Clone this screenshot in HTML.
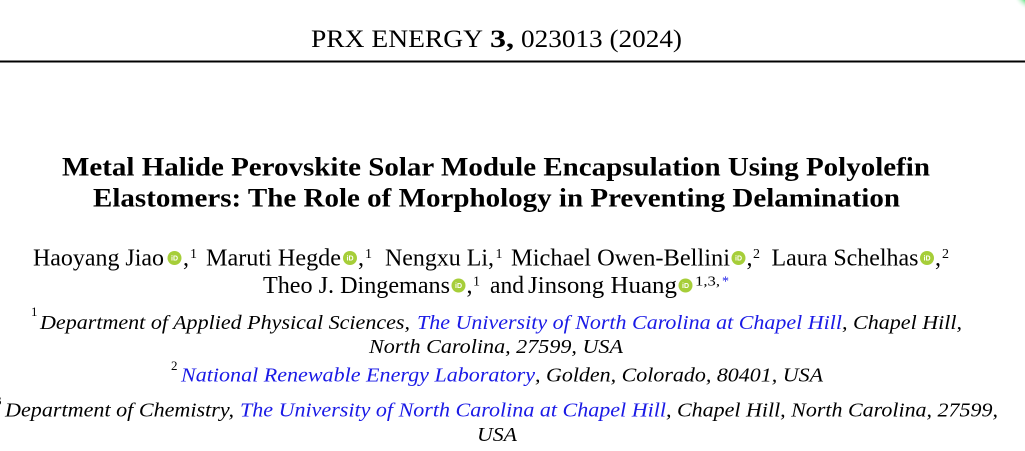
<!DOCTYPE html>
<html>
<head>
<meta charset="utf-8">
<style>
  html,body{margin:0;padding:0;background:#fff;}
  svg{display:block;}
  text{font-family:"Liberation Serif","Times New Roman",serif;fill:#000;}
  .it{font-style:italic;}
  .b{font-weight:bold;}
  .bl{fill:#1a1ae6;}
  .oid{fill:#a6ce39;}
  .oidt{font-family:"Liberation Sans",sans-serif;font-size:7px;font-weight:bold;fill:#fff;}
</style>
</head>
<body>
<svg width="1025" height="451" viewBox="0 0 1025 451" xmlns="http://www.w3.org/2000/svg">
  <defs>
    <radialGradient id="gb" cx="0.5" cy="0.5" r="0.5">
      <stop offset="0" stop-color="#2fd35a"/>
      <stop offset="0.6" stop-color="#5fe07f"/>
      <stop offset="1" stop-color="#ffffff" stop-opacity="0"/>
    </radialGradient>
    <g id="orcid">
      <circle cx="0" cy="0" r="7" class="oid"/>
      <text x="0" y="2.5" text-anchor="middle" class="oidt">iD</text>
    </g>
  </defs>
  <rect width="1025" height="451" fill="#fff"/>
  <circle cx="1034" cy="-10" r="22" fill="url(#gb)"/>

  <!-- Header -->
  <text x="311" y="47" font-size="25" textLength="172" lengthAdjust="spacingAndGlyphs">PRX ENERGY</text>
  <text x="490" y="47" font-size="25" class="b" textLength="24" lengthAdjust="spacingAndGlyphs">3,</text>
  <text x="521" y="47" font-size="25" textLength="161" lengthAdjust="spacingAndGlyphs">023013 (2024)</text>
  <rect x="0" y="60.5" width="1025" height="2" fill="#000"/>

  <!-- Title -->
  <text x="62" y="175.5" font-size="26.5" class="b" textLength="868" lengthAdjust="spacingAndGlyphs">Metal Halide Perovskite Solar Module Encapsulation Using Polyolefin</text>
  <text x="93" y="206.5" font-size="26.5" class="b" textLength="807" lengthAdjust="spacingAndGlyphs">Elastomers: The Role of Morphology in Preventing Delamination</text>

  <!-- Authors line 1 -->
  <text x="33" y="265.5" font-size="24" textLength="131" lengthAdjust="spacingAndGlyphs">Haoyang Jiao</text>
  <use href="#orcid" x="174.5" y="258"/>
  <text x="183" y="265.5" font-size="24">,</text>
  <text x="190" y="258" font-size="14">1</text>

  <text x="206" y="265.5" font-size="24" textLength="135" lengthAdjust="spacingAndGlyphs">Maruti Hegde</text>
  <use href="#orcid" x="350" y="258"/>
  <text x="358" y="265.5" font-size="24">,</text>
  <text x="365" y="258" font-size="14">1</text>

  <text x="385" y="265.5" font-size="24" textLength="109" lengthAdjust="spacingAndGlyphs">Nengxu Li,</text>
  <text x="495.5" y="258" font-size="14">1</text>

  <text x="511" y="265.5" font-size="24" textLength="219" lengthAdjust="spacingAndGlyphs">Michael Owen-Bellini</text>
  <use href="#orcid" x="738.5" y="258"/>
  <text x="746.5" y="265.5" font-size="24">,</text>
  <text x="753" y="258" font-size="14">2</text>

  <text x="771.5" y="265.5" font-size="24" textLength="147" lengthAdjust="spacingAndGlyphs">Laura Schelhas</text>
  <use href="#orcid" x="927" y="258"/>
  <text x="935" y="265.5" font-size="24">,</text>
  <text x="942" y="258" font-size="14">2</text>

  <!-- Authors line 2 -->
  <text x="263" y="293" font-size="24" textLength="187" lengthAdjust="spacingAndGlyphs">Theo J. Dingemans</text>
  <use href="#orcid" x="458.5" y="285.5"/>
  <text x="466.5" y="293" font-size="24">,</text>
  <text x="473" y="285.5" font-size="14">1</text>
  <text x="490" y="293" font-size="24" textLength="34" lengthAdjust="spacingAndGlyphs">and</text>
  <text x="528" y="293" font-size="24" textLength="149" lengthAdjust="spacingAndGlyphs">Jinsong Huang</text>
  <use href="#orcid" x="685.5" y="285.5"/>
  <text x="695" y="285.5" font-size="14" textLength="25" lengthAdjust="spacingAndGlyphs">1,3,</text>
  <text x="722" y="285.5" font-size="14" class="bl">*</text>

  <!-- Affiliation 1 -->
  <text x="31" y="316" font-size="13">1</text>
  <text x="40" y="329" font-size="20.5" class="it" textLength="370" lengthAdjust="spacingAndGlyphs">Department of Applied Physical Sciences,</text>
  <text x="417" y="329" font-size="20.5" class="it bl" textLength="425" lengthAdjust="spacingAndGlyphs">The University of North Carolina at Chapel Hill</text>
  <text x="842" y="329" font-size="20.5" class="it" textLength="120" lengthAdjust="spacingAndGlyphs">, Chapel Hill,</text>
  <text x="369" y="353" font-size="20.5" class="it" textLength="254" lengthAdjust="spacingAndGlyphs">North Carolina, 27599, USA</text>

  <!-- Affiliation 2 -->
  <text x="171" y="370" font-size="13">2</text>
  <text x="181" y="381.5" font-size="20.5" class="it bl" textLength="354" lengthAdjust="spacingAndGlyphs">National Renewable Energy Laboratory</text>
  <text x="535" y="381.5" font-size="20.5" class="it" textLength="288" lengthAdjust="spacingAndGlyphs">, Golden, Colorado, 80401, USA</text>

  <!-- Affiliation 3 -->
  <text x="-5" y="405" font-size="13">3</text>
  <text x="5" y="416.5" font-size="20.5" class="it" textLength="229" lengthAdjust="spacingAndGlyphs">Department of Chemistry,</text>
  <text x="240" y="416.5" font-size="20.5" class="it bl" textLength="426" lengthAdjust="spacingAndGlyphs">The University of North Carolina at Chapel Hill</text>
  <text x="666" y="416.5" font-size="20.5" class="it" textLength="332" lengthAdjust="spacingAndGlyphs">, Chapel Hill, North Carolina, 27599,</text>
  <text x="477" y="441" font-size="20.5" class="it" textLength="40" lengthAdjust="spacingAndGlyphs">USA</text>
</svg>
</body>
</html>
